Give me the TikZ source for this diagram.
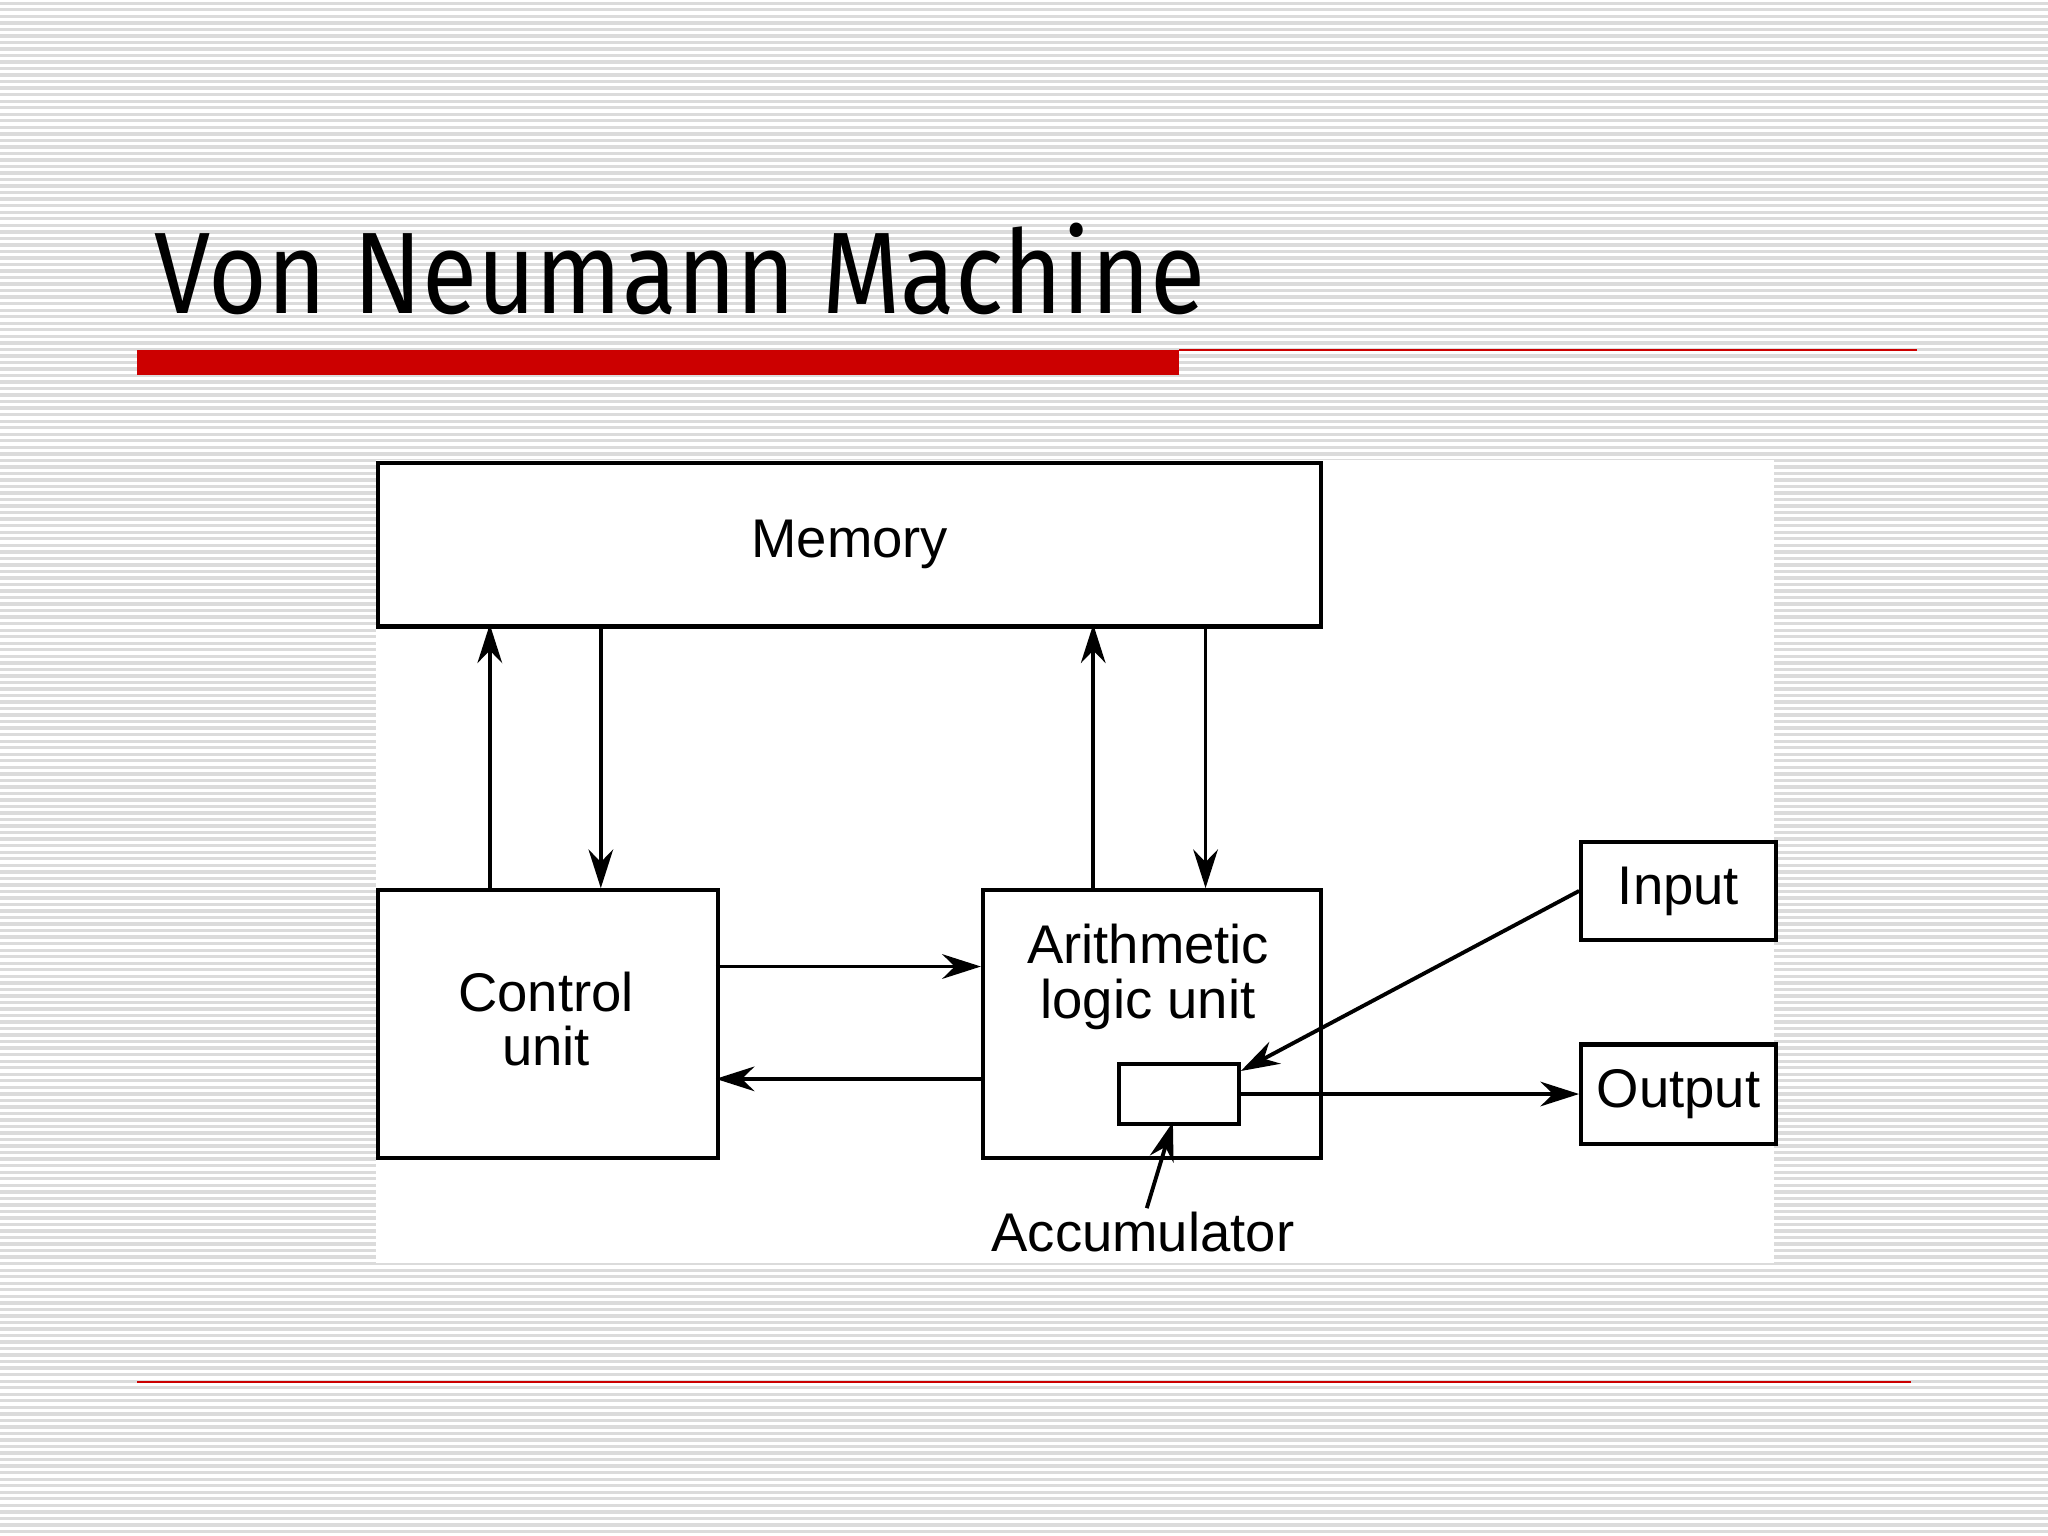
\documentclass[tikz,border=0pt]{standalone}
\usepackage{fontspec}
\setmainfont{Liberation Sans}
\newfontfamily\titlefont{Fira Sans}
\usetikzlibrary{arrows.meta}
\definecolor{bg}{gray}{0.86}
\definecolor{barred}{RGB}{204,0,0}
\begin{document}
\begin{tikzpicture}[x=0.013061cm,y=-0.013061cm,
  box/.style={draw,line width=1.2pt,fill=white},
  lbl/.style={font=\fontsize{15.5}{18.5}\selectfont,align=center},
  arr/.style={line width=1.1pt,-{Stealth[length=11pt,width=7pt]}}]
\useasboundingbox (0,0) rectangle (1568,1176);
\fill[bg] (0,0) rectangle (1568,1176);
\foreach \y in {0,5,...,1175} \draw[white,line width=0.9pt] (0,\y) -- (1568,\y);
\node[anchor=base west,inner sep=0,xscale=0.87,font=\titlefont\fontsize{33}{38}\selectfont] (title) at (118,240) {Von Neumann Machine};
\fill[barred] (105,268) rectangle (903,287);
\draw[barred,line width=0.6pt] (903,268) -- (1468,268);
\draw[barred,line width=0.5pt] (105,1058) -- (1463,1058);
\fill[white] (288,352) rectangle (1358,967);
\node[box,minimum width={722*0.013061cm},minimum height={125*0.013061cm},anchor=north west,lbl] (mem) at (288,353) {Memory};
\node[box,minimum width={260*0.013061cm},minimum height={205*0.013061cm},anchor=north west] (cu) at (288,680) {};
\node[lbl] at (418,780) {Control\\[-3pt]unit};
\node[box,minimum width={259*0.013061cm},minimum height={205*0.013061cm},anchor=north west] (alu) at (751,680) {};
\node[lbl,anchor=north] at (879,698) {Arithmetic\\[-3pt]logic unit};
\node[box,minimum width={92*0.013061cm},minimum height={46*0.013061cm},anchor=north west] (acc) at (855,813) {};
\node[box,minimum width={149*0.013061cm},minimum height={75*0.013061cm},anchor=north west,lbl] (in) at (1209,643) {Input};
\node[box,minimum width={149*0.013061cm},minimum height={76*0.013061cm},anchor=north west,lbl] (out) at (1209,798) {Output};
\node[lbl] (acclbl) at (875,943) {Accumulator};
\draw[arr] (375,680) -- (375,478);
\draw[arr] (460,478) -- (460,680);
\draw[arr] (837,680) -- (837,478);
\draw[arr] (923,478) -- (923,680);
\draw[arr] (548,740) -- (751,740);
\draw[arr] (751,826) -- (548,826);
\draw[arr] (in.west) -- (950,820);
\draw[arr] (out.west -| acc.east) -- (out.west);
\draw[arr] (878,925) -- (898,859);
\end{tikzpicture}
\end{document}
